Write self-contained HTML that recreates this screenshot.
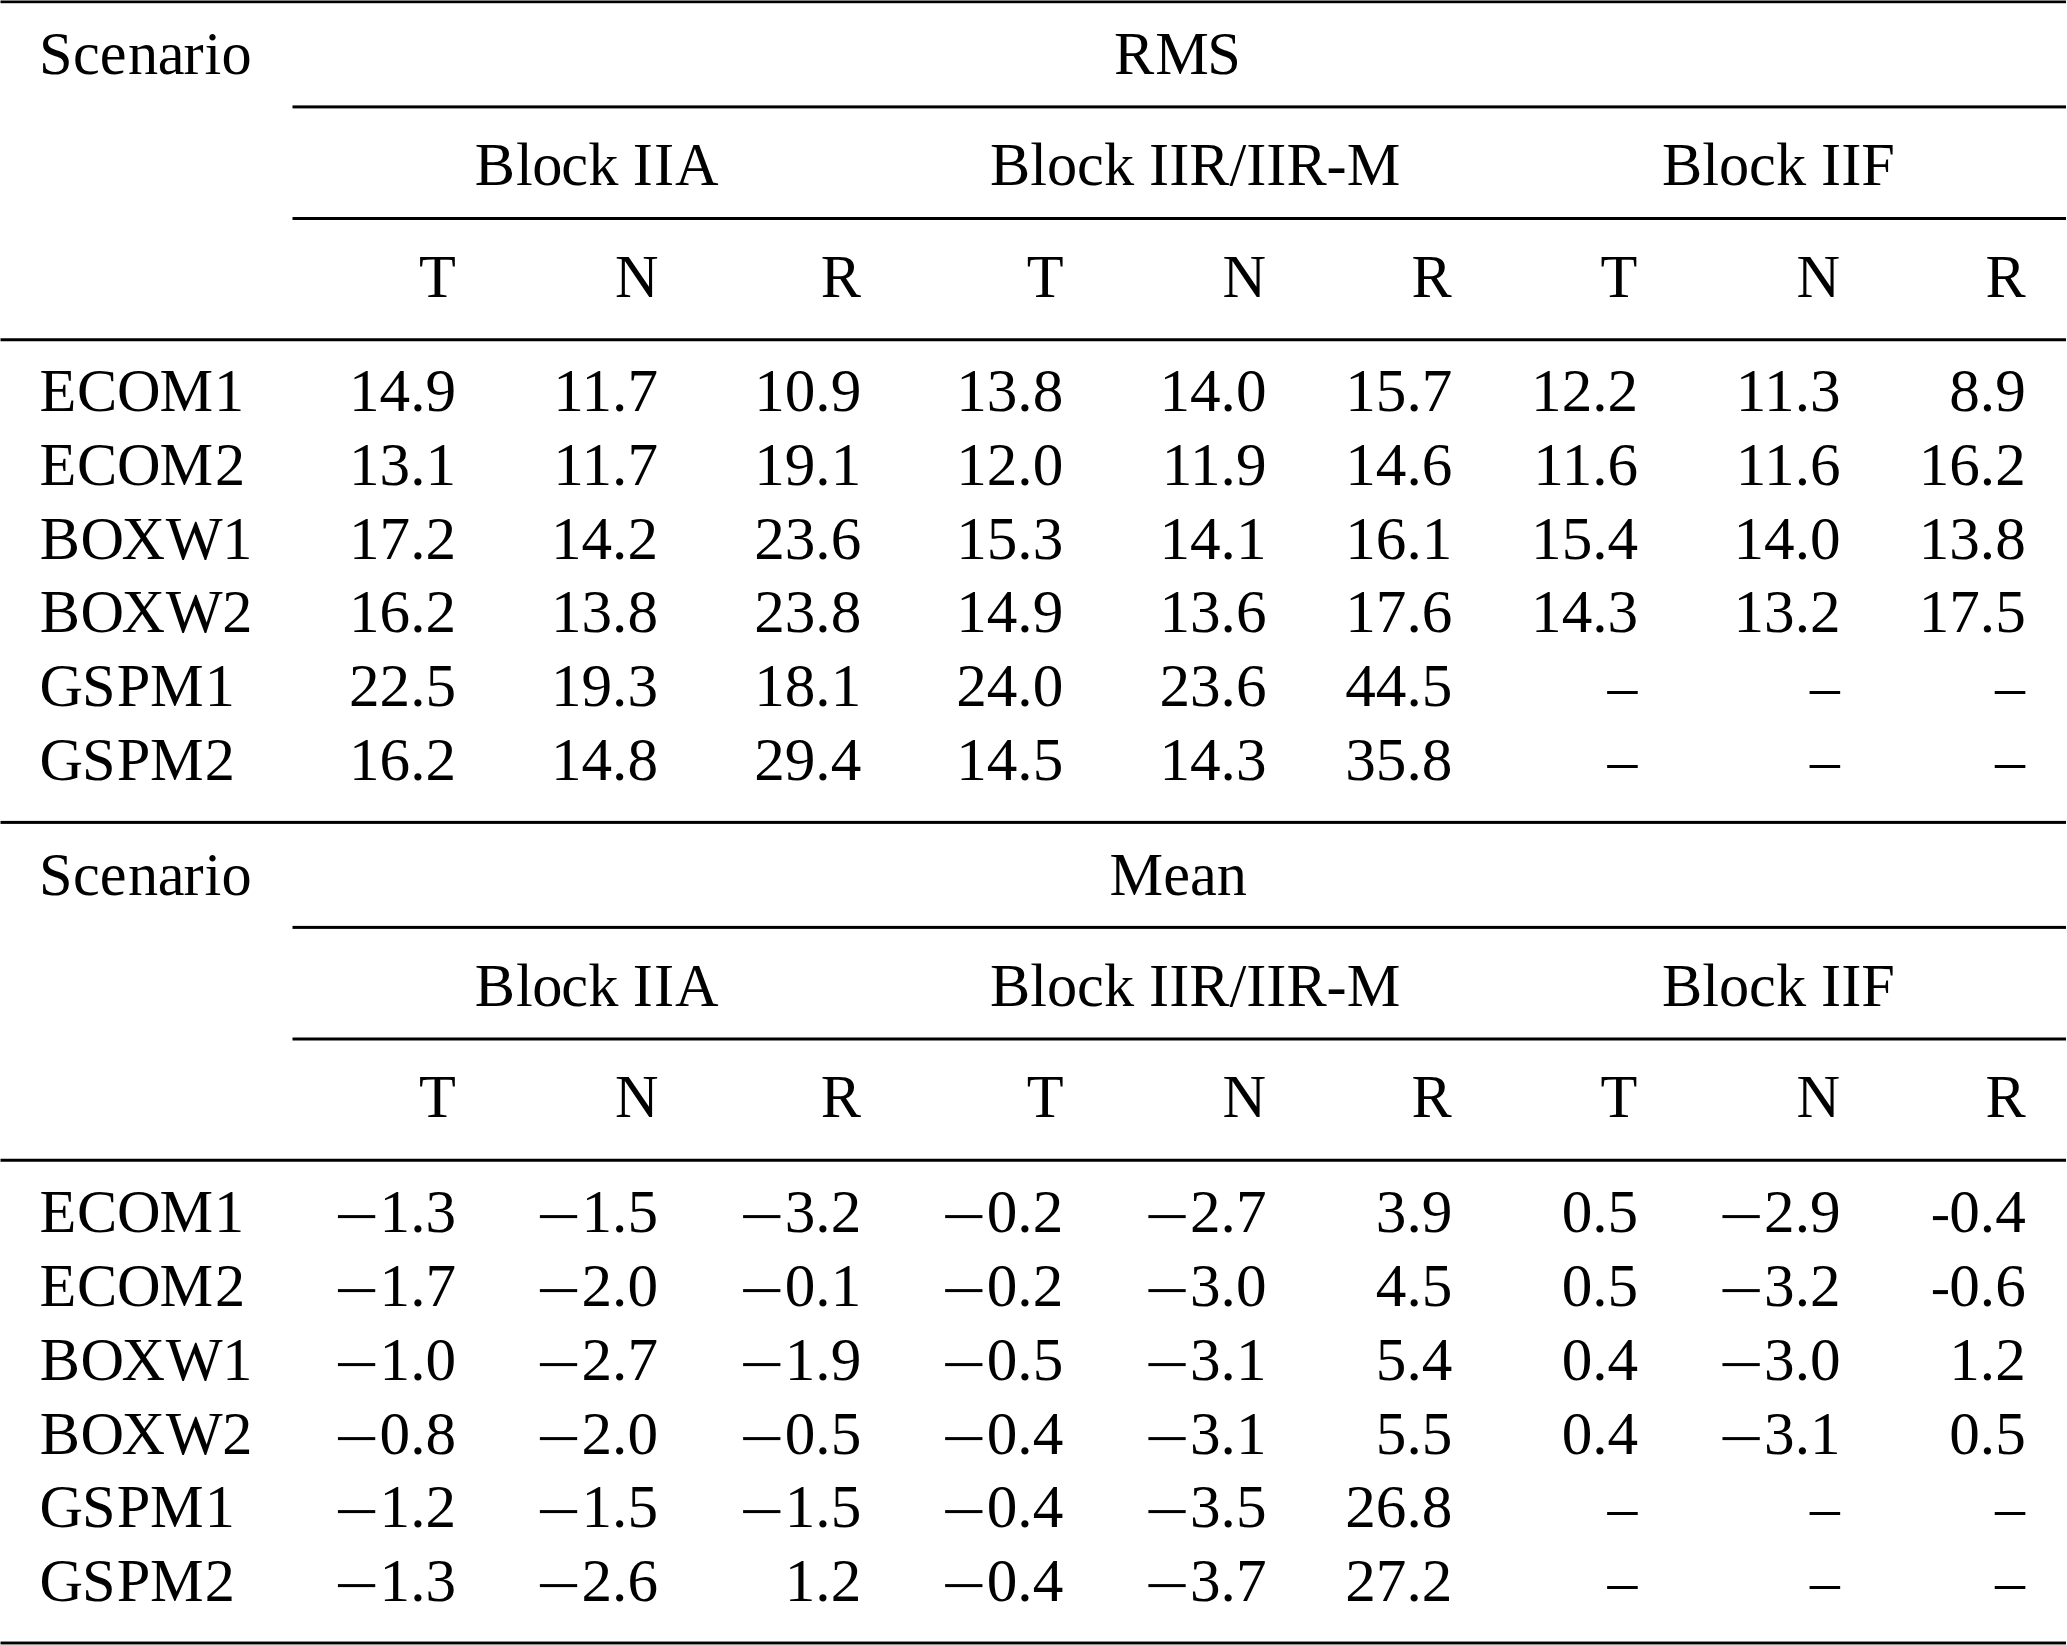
<!DOCTYPE html>
<html><head><meta charset="utf-8"><title>Table</title>
<style>
html,body{margin:0;padding:0;background:#fff;}
body{width:2067px;height:1645px;position:relative;overflow:hidden;font-family:"Liberation Serif",serif;color:#000;}
svg{position:absolute;left:0;top:0;}
.t{position:absolute;white-space:nowrap;}
.L{font-size:60.3px;line-height:60.3px;height:60.3px;}
.D{font-size:61.2px;line-height:61.2px;height:61.2px;}
.L b{font-weight:normal;font-size:61.2px;}
.r{text-align:right;}
.x{color:transparent;}
</style></head><body>
<svg width="2067" height="1645" viewBox="0 0 2067 1645" shape-rendering="geometricPrecision" fill="#000">
<rect x="0.50" y="0.50" width="2065.50" height="2.70"/>
<rect x="292.50" y="105.40" width="1773.50" height="3.00"/>
<rect x="292.50" y="217.00" width="1773.50" height="3.00"/>
<rect x="0.50" y="338.25" width="2065.50" height="3.00"/>
<rect x="0.50" y="820.90" width="2065.50" height="3.00"/>
<rect x="292.50" y="925.90" width="1773.50" height="3.00"/>
<rect x="292.50" y="1037.50" width="1773.50" height="3.00"/>
<rect x="0.50" y="1158.75" width="2065.50" height="3.00"/>
<rect x="0.50" y="1641.55" width="2065.50" height="2.90"/>
<rect x="1607.13" y="691.00" width="30.60" height="3.00"/>
<rect x="1809.57" y="691.00" width="30.60" height="3.00"/>
<rect x="1994.74" y="691.00" width="30.60" height="3.00"/>
<rect x="1607.13" y="765.00" width="30.60" height="3.00"/>
<rect x="1809.57" y="765.00" width="30.60" height="3.00"/>
<rect x="1994.74" y="765.00" width="30.60" height="3.00"/>
<rect x="337.93" y="1215.10" width="37.30" height="3.00"/>
<rect x="539.87" y="1215.10" width="37.30" height="3.00"/>
<rect x="743.11" y="1215.10" width="37.30" height="3.00"/>
<rect x="945.15" y="1215.10" width="37.30" height="3.00"/>
<rect x="1148.39" y="1215.10" width="37.30" height="3.00"/>
<rect x="1722.47" y="1215.10" width="37.30" height="3.00"/>
<rect x="1932.94" y="1216.10" width="15.00" height="4.00"/>
<rect x="337.93" y="1289.10" width="37.30" height="3.00"/>
<rect x="539.87" y="1289.10" width="37.30" height="3.00"/>
<rect x="743.11" y="1289.10" width="37.30" height="3.00"/>
<rect x="945.15" y="1289.10" width="37.30" height="3.00"/>
<rect x="1148.39" y="1289.10" width="37.30" height="3.00"/>
<rect x="1722.47" y="1289.10" width="37.30" height="3.00"/>
<rect x="1932.94" y="1290.10" width="15.00" height="4.00"/>
<rect x="337.93" y="1363.10" width="37.30" height="3.00"/>
<rect x="539.87" y="1363.10" width="37.30" height="3.00"/>
<rect x="743.11" y="1363.10" width="37.30" height="3.00"/>
<rect x="945.15" y="1363.10" width="37.30" height="3.00"/>
<rect x="1148.39" y="1363.10" width="37.30" height="3.00"/>
<rect x="1722.47" y="1363.10" width="37.30" height="3.00"/>
<rect x="337.93" y="1437.10" width="37.30" height="3.00"/>
<rect x="539.87" y="1437.10" width="37.30" height="3.00"/>
<rect x="743.11" y="1437.10" width="37.30" height="3.00"/>
<rect x="945.15" y="1437.10" width="37.30" height="3.00"/>
<rect x="1148.39" y="1437.10" width="37.30" height="3.00"/>
<rect x="1722.47" y="1437.10" width="37.30" height="3.00"/>
<rect x="337.93" y="1510.10" width="37.30" height="3.00"/>
<rect x="539.87" y="1510.10" width="37.30" height="3.00"/>
<rect x="743.11" y="1510.10" width="37.30" height="3.00"/>
<rect x="945.15" y="1510.10" width="37.30" height="3.00"/>
<rect x="1148.39" y="1510.10" width="37.30" height="3.00"/>
<rect x="1607.13" y="1512.00" width="30.60" height="3.00"/>
<rect x="1809.57" y="1512.00" width="30.60" height="3.00"/>
<rect x="1994.74" y="1512.00" width="30.60" height="3.00"/>
<rect x="337.93" y="1584.10" width="37.30" height="3.00"/>
<rect x="539.87" y="1584.10" width="37.30" height="3.00"/>
<rect x="945.15" y="1584.10" width="37.30" height="3.00"/>
<rect x="1148.39" y="1584.10" width="37.30" height="3.00"/>
<rect x="1607.13" y="1586.00" width="30.60" height="3.00"/>
<rect x="1809.57" y="1586.00" width="30.60" height="3.00"/>
<rect x="1994.74" y="1586.00" width="30.60" height="3.00"/>
</svg>
<div class="t L" style="left:40.50px;top:24.00px"><span style="margin-left:-1.50px">S</span><span style="margin-left:0.50px">c</span><span style="margin-left:-0.20px">e</span><span style="margin-left:1.50px">n</span><span style="margin-left:-0.30px">a</span><span style="margin-left:-1.00px">r</span><span style="margin-left:1.00px">i</span>o</div>
<div class="t L" style="left:1114.00px;top:24.00px">R<span style="margin-left:1.05px">M</span><span style="margin-left:-1.75px">S</span></div>
<div class="t L" style="left:475.00px;top:135.00px"><span style="margin-left:-0.30px">B</span><span style="margin-left:1.00px">l</span><span style="margin-left:-0.50px">o</span><span style="margin-left:-1.20px">c</span><span style="margin-left:0.30px">k</span>&nbsp;<span style="margin-left:-0.70px">I</span><span style="margin-left:1.20px">I</span><span style="margin-left:0.90px">A</span></div>
<div class="t L" style="left:990.00px;top:135.00px">Block&nbsp;IIR/IIR-M</div>
<div class="t L" style="left:1662.00px;top:135.00px">Block&nbsp;IIF</div>
<div class="t L r" style="right:1611.07px;top:247.00px">T</div>
<div class="t L r" style="right:1408.53px;top:247.00px">N</div>
<div class="t L r" style="right:1205.99px;top:247.00px">R</div>
<div class="t L r" style="right:1003.45px;top:247.00px">T</div>
<div class="t L r" style="right:800.91px;top:247.00px">N</div>
<div class="t L r" style="right:615.24px;top:247.00px">R</div>
<div class="t L r" style="right:429.57px;top:247.00px">T</div>
<div class="t L r" style="right:227.03px;top:247.00px">N</div>
<div class="t L r" style="right:41.36px;top:247.00px">R</div>
<div class="t L" style="left:40.50px;top:361.00px"><span style="margin-left:-0.90px">E</span><span style="margin-left:0.60px">C</span><span style="margin-left:-0.40px">O</span><span style="margin-left:-0.90px">M</span><span style="margin-left:0.90px">1</span></div>
<div class="t D r" style="right:1610.97px;top:360.00px">14.9</div>
<div class="t D r" style="right:1409.03px;top:360.00px">11.7</div>
<div class="t D r" style="right:1205.79px;top:360.00px">10.9</div>
<div class="t D r" style="right:1003.75px;top:360.00px">13.8</div>
<div class="t D r" style="right:800.51px;top:360.00px">14.0</div>
<div class="t D r" style="right:614.74px;top:360.00px">15.7</div>
<div class="t D r" style="right:428.87px;top:360.00px">12.2</div>
<div class="t D r" style="right:226.43px;top:360.00px">11.3</div>
<div class="t D r" style="right:41.26px;top:360.00px">8.9</div>
<div class="t L" style="left:40.50px;top:435.00px"><span style="margin-left:-0.90px">E</span><span style="margin-left:0.60px">C</span><span style="margin-left:-0.40px">O</span><span style="margin-left:-0.90px">M</span><span style="margin-left:1.80px">2</span></div>
<div class="t D r" style="right:1610.97px;top:434.00px">13.1</div>
<div class="t D r" style="right:1409.03px;top:434.00px">11.7</div>
<div class="t D r" style="right:1205.79px;top:434.00px">19.1</div>
<div class="t D r" style="right:1003.75px;top:434.00px">12.0</div>
<div class="t D r" style="right:800.51px;top:434.00px">11.9</div>
<div class="t D r" style="right:614.74px;top:434.00px">14.6</div>
<div class="t D r" style="right:428.87px;top:434.00px">11.6</div>
<div class="t D r" style="right:226.43px;top:434.00px">11.6</div>
<div class="t D r" style="right:41.26px;top:434.00px">16.2</div>
<div class="t L" style="left:40.50px;top:509.00px"><span style="margin-left:-0.70px">B</span><span style="margin-left:0.50px">O</span><span style="margin-left:-2.70px">X</span><span style="margin-left:0.70px">W</span><span style="margin-left:-0.20px">1</span></div>
<div class="t D r" style="right:1610.97px;top:508.00px">17.2</div>
<div class="t D r" style="right:1409.03px;top:508.00px">14.2</div>
<div class="t D r" style="right:1205.79px;top:508.00px">23.6</div>
<div class="t D r" style="right:1003.75px;top:508.00px">15.3</div>
<div class="t D r" style="right:800.51px;top:508.00px">14.1</div>
<div class="t D r" style="right:614.74px;top:508.00px">16.1</div>
<div class="t D r" style="right:428.87px;top:508.00px">15.4</div>
<div class="t D r" style="right:226.43px;top:508.00px">14.0</div>
<div class="t D r" style="right:41.26px;top:508.00px">13.8</div>
<div class="t L" style="left:40.50px;top:582.00px"><span style="margin-left:-0.70px">B</span><span style="margin-left:0.50px">O</span><span style="margin-left:-2.70px">X</span><span style="margin-left:0.70px">W</span><span style="margin-left:-0.20px">2</span></div>
<div class="t D r" style="right:1610.97px;top:581.00px">16.2</div>
<div class="t D r" style="right:1409.03px;top:581.00px">13.8</div>
<div class="t D r" style="right:1205.79px;top:581.00px">23.8</div>
<div class="t D r" style="right:1003.75px;top:581.00px">14.9</div>
<div class="t D r" style="right:800.51px;top:581.00px">13.6</div>
<div class="t D r" style="right:614.74px;top:581.00px">17.6</div>
<div class="t D r" style="right:428.87px;top:581.00px">14.3</div>
<div class="t D r" style="right:226.43px;top:581.00px">13.2</div>
<div class="t D r" style="right:41.26px;top:581.00px">17.5</div>
<div class="t L" style="left:40.50px;top:656.00px"><span style="margin-left:-1.00px">G</span><span style="margin-left:-1.00px">S</span><span style="margin-left:1.05px">P</span><span style="margin-left:-0.25px">M</span><span style="margin-left:1.20px">1</span></div>
<div class="t D r" style="right:1610.97px;top:655.00px">22.5</div>
<div class="t D r" style="right:1409.03px;top:655.00px">19.3</div>
<div class="t D r" style="right:1205.79px;top:655.00px">18.1</div>
<div class="t D r" style="right:1003.75px;top:655.00px">24.0</div>
<div class="t D r" style="right:800.51px;top:655.00px">23.6</div>
<div class="t D r" style="right:614.74px;top:655.00px">44.5</div>
<div class="t D r" style="right:428.87px;top:655.00px"><span class="x">–</span></div>
<div class="t D r" style="right:226.43px;top:655.00px"><span class="x">–</span></div>
<div class="t D r" style="right:41.26px;top:655.00px"><span class="x">–</span></div>
<div class="t L" style="left:40.50px;top:730.00px"><span style="margin-left:-1.00px">G</span><span style="margin-left:-1.00px">S</span><span style="margin-left:1.05px">P</span><span style="margin-left:-0.25px">M</span><span style="margin-left:1.20px">2</span></div>
<div class="t D r" style="right:1610.97px;top:729.00px">16.2</div>
<div class="t D r" style="right:1409.03px;top:729.00px">14.8</div>
<div class="t D r" style="right:1205.79px;top:729.00px">29.4</div>
<div class="t D r" style="right:1003.75px;top:729.00px">14.5</div>
<div class="t D r" style="right:800.51px;top:729.00px">14.3</div>
<div class="t D r" style="right:614.74px;top:729.00px">35.8</div>
<div class="t D r" style="right:428.87px;top:729.00px"><span class="x">–</span></div>
<div class="t D r" style="right:226.43px;top:729.00px"><span class="x">–</span></div>
<div class="t D r" style="right:41.26px;top:729.00px"><span class="x">–</span></div>
<div class="t L" style="left:40.50px;top:845.00px"><span style="margin-left:-1.50px">S</span><span style="margin-left:0.50px">c</span><span style="margin-left:-0.20px">e</span><span style="margin-left:1.50px">n</span><span style="margin-left:-0.30px">a</span><span style="margin-left:-1.00px">r</span><span style="margin-left:1.00px">i</span>o</div>
<div class="t L" style="left:1109.60px;top:845.00px">Mean</div>
<div class="t L" style="left:475.00px;top:956.00px"><span style="margin-left:-0.30px">B</span><span style="margin-left:1.00px">l</span><span style="margin-left:-0.50px">o</span><span style="margin-left:-1.20px">c</span><span style="margin-left:0.30px">k</span>&nbsp;<span style="margin-left:-0.70px">I</span><span style="margin-left:1.20px">I</span><span style="margin-left:0.90px">A</span></div>
<div class="t L" style="left:990.00px;top:956.00px">Block&nbsp;IIR/IIR-M</div>
<div class="t L" style="left:1662.00px;top:956.00px">Block&nbsp;IIF</div>
<div class="t L r" style="right:1611.07px;top:1067.00px">T</div>
<div class="t L r" style="right:1408.53px;top:1067.00px">N</div>
<div class="t L r" style="right:1205.99px;top:1067.00px">R</div>
<div class="t L r" style="right:1003.45px;top:1067.00px">T</div>
<div class="t L r" style="right:800.91px;top:1067.00px">N</div>
<div class="t L r" style="right:615.24px;top:1067.00px">R</div>
<div class="t L r" style="right:429.57px;top:1067.00px">T</div>
<div class="t L r" style="right:227.03px;top:1067.00px">N</div>
<div class="t L r" style="right:41.36px;top:1067.00px">R</div>
<div class="t L" style="left:40.50px;top:1182.00px"><span style="margin-left:-0.90px">E</span><span style="margin-left:0.60px">C</span><span style="margin-left:-0.40px">O</span><span style="margin-left:-0.90px">M</span><span style="margin-left:0.90px">1</span></div>
<div class="t D r" style="right:1610.97px;top:1181.00px"><span class="x">−</span>1.3</div>
<div class="t D r" style="right:1409.03px;top:1181.00px"><span class="x">−</span>1.5</div>
<div class="t D r" style="right:1205.79px;top:1181.00px"><span class="x">−</span>3.2</div>
<div class="t D r" style="right:1003.75px;top:1181.00px"><span class="x">−</span>0.2</div>
<div class="t D r" style="right:800.51px;top:1181.00px"><span class="x">−</span>2.7</div>
<div class="t D r" style="right:614.74px;top:1181.00px">3.9</div>
<div class="t D r" style="right:428.87px;top:1181.00px">0.5</div>
<div class="t D r" style="right:226.43px;top:1181.00px"><span class="x">−</span>2.9</div>
<div class="t D r" style="right:41.26px;top:1181.00px"><span class="x">-</span>0.4</div>
<div class="t L" style="left:40.50px;top:1256.00px"><span style="margin-left:-0.90px">E</span><span style="margin-left:0.60px">C</span><span style="margin-left:-0.40px">O</span><span style="margin-left:-0.90px">M</span><span style="margin-left:1.80px">2</span></div>
<div class="t D r" style="right:1610.97px;top:1255.00px"><span class="x">−</span>1.7</div>
<div class="t D r" style="right:1409.03px;top:1255.00px"><span class="x">−</span>2.0</div>
<div class="t D r" style="right:1205.79px;top:1255.00px"><span class="x">−</span>0.1</div>
<div class="t D r" style="right:1003.75px;top:1255.00px"><span class="x">−</span>0.2</div>
<div class="t D r" style="right:800.51px;top:1255.00px"><span class="x">−</span>3.0</div>
<div class="t D r" style="right:614.74px;top:1255.00px">4.5</div>
<div class="t D r" style="right:428.87px;top:1255.00px">0.5</div>
<div class="t D r" style="right:226.43px;top:1255.00px"><span class="x">−</span>3.2</div>
<div class="t D r" style="right:41.26px;top:1255.00px"><span class="x">-</span>0.6</div>
<div class="t L" style="left:40.50px;top:1330.00px"><span style="margin-left:-0.70px">B</span><span style="margin-left:0.50px">O</span><span style="margin-left:-2.70px">X</span><span style="margin-left:0.70px">W</span><span style="margin-left:-0.20px">1</span></div>
<div class="t D r" style="right:1610.97px;top:1329.00px"><span class="x">−</span>1.0</div>
<div class="t D r" style="right:1409.03px;top:1329.00px"><span class="x">−</span>2.7</div>
<div class="t D r" style="right:1205.79px;top:1329.00px"><span class="x">−</span>1.9</div>
<div class="t D r" style="right:1003.75px;top:1329.00px"><span class="x">−</span>0.5</div>
<div class="t D r" style="right:800.51px;top:1329.00px"><span class="x">−</span>3.1</div>
<div class="t D r" style="right:614.74px;top:1329.00px">5.4</div>
<div class="t D r" style="right:428.87px;top:1329.00px">0.4</div>
<div class="t D r" style="right:226.43px;top:1329.00px"><span class="x">−</span>3.0</div>
<div class="t D r" style="right:41.26px;top:1329.00px">1.2</div>
<div class="t L" style="left:40.50px;top:1404.00px"><span style="margin-left:-0.70px">B</span><span style="margin-left:0.50px">O</span><span style="margin-left:-2.70px">X</span><span style="margin-left:0.70px">W</span><span style="margin-left:-0.20px">2</span></div>
<div class="t D r" style="right:1610.97px;top:1403.00px"><span class="x">−</span>0.8</div>
<div class="t D r" style="right:1409.03px;top:1403.00px"><span class="x">−</span>2.0</div>
<div class="t D r" style="right:1205.79px;top:1403.00px"><span class="x">−</span>0.5</div>
<div class="t D r" style="right:1003.75px;top:1403.00px"><span class="x">−</span>0.4</div>
<div class="t D r" style="right:800.51px;top:1403.00px"><span class="x">−</span>3.1</div>
<div class="t D r" style="right:614.74px;top:1403.00px">5.5</div>
<div class="t D r" style="right:428.87px;top:1403.00px">0.4</div>
<div class="t D r" style="right:226.43px;top:1403.00px"><span class="x">−</span>3.1</div>
<div class="t D r" style="right:41.26px;top:1403.00px">0.5</div>
<div class="t L" style="left:40.50px;top:1477.00px"><span style="margin-left:-1.00px">G</span><span style="margin-left:-1.00px">S</span><span style="margin-left:1.05px">P</span><span style="margin-left:-0.25px">M</span><span style="margin-left:1.20px">1</span></div>
<div class="t D r" style="right:1610.97px;top:1476.00px"><span class="x">−</span>1.2</div>
<div class="t D r" style="right:1409.03px;top:1476.00px"><span class="x">−</span>1.5</div>
<div class="t D r" style="right:1205.79px;top:1476.00px"><span class="x">−</span>1.5</div>
<div class="t D r" style="right:1003.75px;top:1476.00px"><span class="x">−</span>0.4</div>
<div class="t D r" style="right:800.51px;top:1476.00px"><span class="x">−</span>3.5</div>
<div class="t D r" style="right:614.74px;top:1476.00px">26.8</div>
<div class="t D r" style="right:428.87px;top:1476.00px"><span class="x">–</span></div>
<div class="t D r" style="right:226.43px;top:1476.00px"><span class="x">–</span></div>
<div class="t D r" style="right:41.26px;top:1476.00px"><span class="x">–</span></div>
<div class="t L" style="left:40.50px;top:1551.00px"><span style="margin-left:-1.00px">G</span><span style="margin-left:-1.00px">S</span><span style="margin-left:1.05px">P</span><span style="margin-left:-0.25px">M</span><span style="margin-left:1.20px">2</span></div>
<div class="t D r" style="right:1610.97px;top:1550.00px"><span class="x">−</span>1.3</div>
<div class="t D r" style="right:1409.03px;top:1550.00px"><span class="x">−</span>2.6</div>
<div class="t D r" style="right:1205.79px;top:1550.00px">1.2</div>
<div class="t D r" style="right:1003.75px;top:1550.00px"><span class="x">−</span>0.4</div>
<div class="t D r" style="right:800.51px;top:1550.00px"><span class="x">−</span>3.7</div>
<div class="t D r" style="right:614.74px;top:1550.00px">27.2</div>
<div class="t D r" style="right:428.87px;top:1550.00px"><span class="x">–</span></div>
<div class="t D r" style="right:226.43px;top:1550.00px"><span class="x">–</span></div>
<div class="t D r" style="right:41.26px;top:1550.00px"><span class="x">–</span></div>
</body></html>
